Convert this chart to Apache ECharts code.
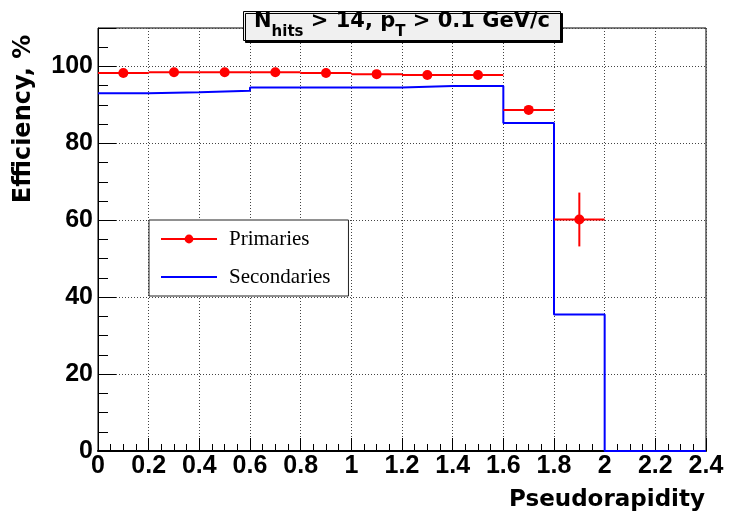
<!DOCTYPE html>
<html>
<head>
<meta charset="utf-8">
<script src="https://cdn.jsdelivr.net/npm/echarts@6/dist/echarts.min.js"></script>
<style>
html,body{margin:0;padding:0;background:#fff;}
#chart{width:732px;height:513px;}
</style>
</head>
<body>
<div id="chart"></div>
<script>
// ---- data ----
const primCenters = [0.1, 0.3, 0.5, 0.7, 0.9, 1.1, 1.3, 1.5, 1.7, 1.9];
const primEff     = [98.3, 98.5, 98.5, 98.5, 98.3, 98.0, 97.8, 97.8, 88.7, 60.2];
const primErr     = [0.3, 0.3, 0.3, 0.3, 0.3, 0.3, 0.4, 0.4, 0.9, 7.0];
const binHalfWidth = 0.1;
const secEdges = [0, 0.2, 0.4, 0.6, 0.8, 1.0, 1.2, 1.4, 1.6, 1.8, 2.0, 2.2, 2.4];
const secEff   = [93.0, 93.3, 93.7, 94.5, 94.5, 94.5, 94.9, 94.9, 85.3, 35.5, 0, 0];
const yTicks = [0, 20, 40, 60, 80, 100];
const xTicks = [0, 0.2, 0.4, 0.6, 0.8, 1, 1.2, 1.4, 1.6, 1.8, 2, 2.2, 2.4];

// step points: each bin's value from its low edge, last edge repeats last value
const secPoints = secEff.map((v, i) => [secEdges[i], v]);
secPoints.push([secEdges[secEdges.length - 1], secEff[secEff.length - 1]]);
const primPoints = primCenters.map((x, i) => [x, primEff[i]]);
const primBars = primCenters.map((x, i) => [x, primEff[i], primErr[i], binHalfWidth]);

const chart = echarts.init(document.getElementById('chart'), null, {renderer: 'canvas'});
const tickFont = 'Liberation Sans, Arial, sans-serif';
const titleFont = 'DejaVu Sans, sans-serif';

chart.setOption({
  animation: false,
  backgroundColor: '#fff',
  title: {
    text: '{n|N}{s|hits}{n| > 14, p}{s|T}{n| > 0.1 GeV/c}',
    left: 243, top: 11,
    padding: [0, 11, 1, 11],
    backgroundColor: '#f0f0f0',
    borderColor: '#000', borderWidth: 1,
    shadowColor: '#000', shadowOffsetX: 2, shadowOffsetY: 2, shadowBlur: 0,
    textStyle: {
      rich: {
        n: {fontFamily: titleFont, fontWeight: 'bold', fontSize: 21, lineHeight: 22, color: '#000', verticalAlign: 'top'},
        s: {fontFamily: titleFont, fontWeight: 'bold', fontSize: 15, lineHeight: 29, color: '#000', verticalAlign: 'bottom', padding: [14, 0, 0, 0]}
      }
    }
  },
  legend: {
    orient: 'vertical',
    left: 149, top: 220,
    padding: [8, 18, 8, 11],
    itemWidth: 56, itemHeight: 11, itemGap: 16,
    backgroundColor: '#fff',
    borderColor: '#222', borderWidth: 1,
    textStyle: {fontFamily: 'Liberation Serif, Times New Roman, serif', fontSize: 21, lineHeight: 22, color: '#000', padding: [0, 0, 0, 7]},
    data: [
      {name: 'Primaries', lineStyle: {color: '#ff0000', width: 2, opacity: 1}, itemStyle: {color: '#ff0000', opacity: 1}},
      {name: 'Secondaries', lineStyle: {color: '#0000ff', width: 2, opacity: 1}, itemStyle: {opacity: 0}}
    ]
  },
  grid: {
    left: 98, right: 26, top: 28, bottom: 62,
    containLabel: false, outerBoundsMode: 'none',
    show: true, borderColor: '#000', borderWidth: 1, backgroundColor: 'transparent'
  },
  xAxis: {
    type: 'value', min: 0, max: 2.4, interval: 0.2,
    name: 'Pseudorapidity', nameLocation: 'middle', nameGap: 38, nameMoveOverlap: false,
    nameTextStyle: {fontFamily: titleFont, fontWeight: 'bold', fontSize: 23, lineHeight: 23, color: '#000', padding: [0, 0, 0, 410]},
    axisLine: {show: true, onZero: false, lineStyle: {color: '#000', width: 2}},
    axisTick: {show: true, inside: true, length: 13, lineStyle: {color: '#000', width: 1}},
    minorTick: {show: true, splitNumber: 4, length: 7, lineStyle: {color: '#000', width: 1}},
    axisLabel: {fontFamily: tickFont, fontWeight: 'bold', fontSize: 25, color: '#000', margin: 3, hideOverlap: false,
      formatter: v => { const t = xTicks.find(q => Math.abs(q - v) < 1e-6); return t === undefined ? '' : String(t); }},
    splitLine: {show: true, lineStyle: {color: '#444', type: [1, 2], width: 1}}
  },
  yAxis: {
    type: 'value', min: 0, max: 110, interval: 20,
    name: 'Efficiency, %', nameLocation: 'middle', nameRotate: 90, nameGap: 62, nameMoveOverlap: false,
    nameTextStyle: {fontFamily: titleFont, fontWeight: 'bold', fontSize: 24, lineHeight: 24, color: '#000', padding: [0, 0, 0, 241]},
    axisLine: {show: true, onZero: false, lineStyle: {color: '#000', width: 1}},
    axisTick: {show: true, inside: true, length: 18, lineStyle: {color: '#000', width: 1}},
    minorTick: {show: true, splitNumber: 4, length: 10, lineStyle: {color: '#000', width: 1}},
    axisLabel: {fontFamily: tickFont, fontWeight: 'bold', fontSize: 25, color: '#000', margin: 5, showMaxLabel: false, hideOverlap: false,
      formatter: v => yTicks.indexOf(v) >= 0 ? String(v) : ''},
    splitLine: {show: true, lineStyle: {color: '#444', type: [1, 2], width: 1}}
  },
  series: [
    {
      name: 'Primaries', type: 'line', data: primPoints, z: 5,
      symbol: 'circle', symbolSize: 10, showSymbol: true,
      itemStyle: {color: '#ff0000'},
      lineStyle: {width: 0, opacity: 0},
      clip: false
    },
    {
      name: 'Secondaries', type: 'line', data: secPoints, step: 'end', z: 3,
      symbol: 'none', lineStyle: {color: '#0000ff', width: 2},
      itemStyle: {color: '#0000ff'}, clip: false
    },
    {
      name: 'Primaries', type: 'custom', data: primBars, z: 4,
      renderItem: function (params, api) {
        const x = api.value(0), y = api.value(1), e = api.value(2), hw = api.value(3);
        const a = api.coord([x - hw, y]), b = api.coord([x + hw, y]);
        const c = api.coord([x, y - e]), d = api.coord([x, y + e]);
        const st = {stroke: '#ff0000', lineWidth: 2};
        return {type: 'group', children: [
          {type: 'line', shape: {x1: a[0], y1: a[1], x2: b[0], y2: b[1]}, style: st},
          {type: 'line', shape: {x1: c[0], y1: c[1], x2: d[0], y2: d[1]}, style: st}
        ]};
      }
    }
  ]
});
</script>
</body>
</html>
